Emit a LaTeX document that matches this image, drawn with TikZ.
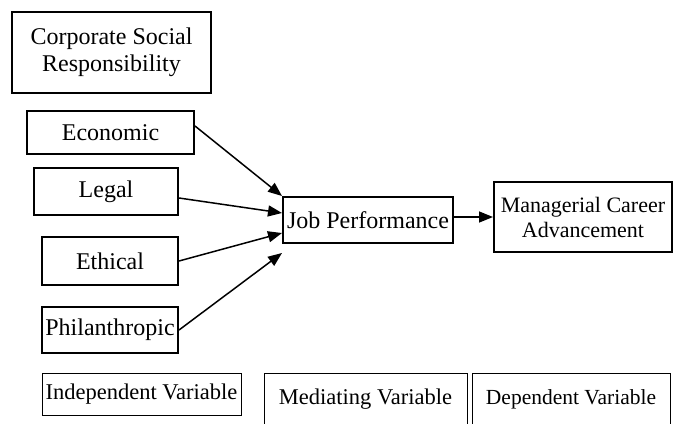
\documentclass[tikz,border=0pt]{standalone}
\usepackage{fontspec}
\setmainfont{Liberation Serif}
\usetikzlibrary{arrows.meta}
\begin{document}
\begin{tikzpicture}[x=1pt, y=-1pt,
  varbox/.style={shape=rectangle, draw=black, line width=2pt, inner sep=0pt, align=center, font=\fontsize{24}{27}\selectfont},
  keybox/.style={shape=rectangle, draw=black, line width=1pt, inner sep=0pt, align=center, font=\fontsize{22.5}{26}\selectfont},
  link/.style={-{Triangle[length=14pt, width=11pt]}, line width=1.5pt, draw=black}]
\useasboundingbox (0,0) rectangle (677,423);
\node[varbox, line width=1.6pt, minimum width=199, minimum height=81] (csr) at (111.5, 52.5) {Corporate Social\\Responsibility};
\node[varbox, minimum width=167, minimum height=43] (eco) at (110.5, 132.5) {Economic};
\node[varbox, minimum width=144, minimum height=47] (legal) at (106, 191.5) {Legal};
\node[varbox, minimum width=136, minimum height=48] (ethic) at (110, 261) {Ethical};
\node[varbox, minimum width=136, minimum height=46] (phil) at (110, 330) {Philanthropic};
\node[varbox, minimum width=170, minimum height=46] (job) at (368, 220) {Job Performance};
\node[varbox, minimum width=178, minimum height=70, font=\fontsize{22}{25}\selectfont] (mgr) at (583, 217) {Managerial Career\\Advancement};
\node[keybox, minimum width=199, minimum height=42] (indep) at (141.5, 394) {Independent Variable};
\node[keybox, minimum width=203, minimum height=53] (med) at (365.5, 399.5) {Mediating Variable};
\node[keybox, minimum width=198, minimum height=53, font=\fontsize{21.5}{25}\selectfont] (dep) at (571, 399.5) {Dependent Variable};
\draw [link] ([yshift=6.5pt]eco.east) -- (job.north west);
\draw [link] ([yshift=-6.5pt]legal.east) -- ([yshift=7pt]job.west);
\draw [link] (ethic.east) -- ([yshift=-13pt]job.west);
\draw [link] (phil.east) -- ([yshift=-9pt]job.south west);
\draw [link] ([yshift=3pt]job.east) -- (mgr.west);
\end{tikzpicture}
\end{document}
